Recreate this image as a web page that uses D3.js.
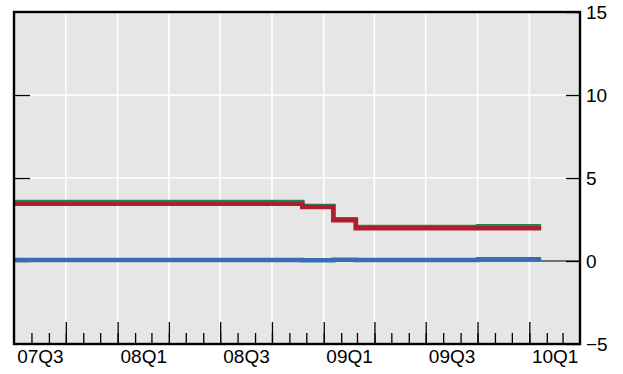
<!DOCTYPE html>
<html>
<head>
<meta charset="utf-8">
<script src="https://cdn.jsdelivr.net/npm/d3@7"></script>
<style>
  html, body { margin: 0; padding: 0; background: #ffffff; }
  svg { display: block; font-family: "Liberation Sans", Arial, sans-serif; }
</style>
</head>
<body>
<svg id="chart" width="623" height="374"></svg>
<script>
// Dates at which the rates change (last entry closes the series)
const changeDates = ["2007-07-01", "2008-11-24", "2009-01-18", "2009-02-27", "2009-10-02", "2010-01-22"];
// Rate levels (per cent) in force from each date
const redSeries   = [3.45, 3.25, 2.45, 1.98, 1.98, 1.98];
const greenSeries = [3.55, 3.32, 2.52, 2.05, 2.10, 2.10];
const blueSeries  = [0.06, 0.04, 0.08, 0.06, 0.10, 0.10];
// Axis ticks
const yTicks = [-5, 0, 5, 10, 15];
const yGrid = [5, 10];
const quarterLabels = ["07Q3", "07Q4", "08Q1", "08Q2", "08Q3", "08Q4", "09Q1", "09Q2", "09Q3", "09Q4", "10Q1"];
const shownLabels = ["07Q3", "08Q1", "08Q3", "09Q1", "09Q3", "10Q1"];

const parse = d3.timeParse("%Y-%m-%d");
const dates = changeDates.map(parse);

const svg = d3.select("#chart");
const pLeft = 14, pRight = 580, pTop = 12, pBottom = 344;

const x = d3.scaleTime()
  .domain([new Date(2007, 6, 1), new Date(2010, 3, 1)])
  .range([pLeft, pRight]);
const y = d3.scaleLinear().domain([-5, 15]).range([pBottom, pTop]);

// Quarter start dates derived from the quarter labels
const quarterStart = q => new Date(2000 + +q.slice(0, 2), (+q.slice(3) - 1) * 3, 1);
const quarters = quarterLabels.map(quarterStart);
const months = d3.timeMonth.range(x.domain()[0], x.domain()[1]).slice(1);

// Plot background
svg.append("rect")
  .attr("x", pLeft).attr("y", pTop)
  .attr("width", pRight - pLeft).attr("height", pBottom - pTop)
  .attr("fill", "#e6e6e6");

// White grid
const grid = svg.append("g").attr("stroke", "#ffffff").attr("stroke-width", 1.6);
grid.selectAll("line.v").data(quarters.slice(1)).join("line")
  .attr("class", "v")
  .attr("x1", d => x(d)).attr("x2", d => x(d))
  .attr("y1", pTop).attr("y2", pBottom);
grid.selectAll("line.h").data(yGrid).join("line")
  .attr("class", "h")
  .attr("x1", pLeft).attr("x2", pRight)
  .attr("y1", d => y(d)).attr("y2", d => y(d));

// Zero line
svg.append("line")
  .attr("x1", pLeft).attr("x2", pRight)
  .attr("y1", y(0)).attr("y2", y(0))
  .attr("stroke", "#000").attr("stroke-width", 1.2);

// Left ticks (no labels)
svg.append("g")
  .attr("transform", `translate(${pLeft},0)`)
  .call(d3.axisLeft(y).tickValues([0, 5, 10]).tickSizeInner(-16).tickSizeOuter(0).tickFormat(""))
  .call(g => g.select(".domain").remove())
  .call(g => g.selectAll(".tick line").attr("stroke", "#000").attr("stroke-width", 1.3));

// Series
const line = d3.line()
  .x(d => x(d.date))
  .y(d => y(d.value))
  .curve(d3.curveStepAfter);

const series = [
  { values: greenSeries, color: "#1a8a52" },
  { values: redSeries,   color: "#ad1f30" },
  { values: blueSeries,  color: "#3a6bb3" }
];
series.forEach(s => {
  svg.append("path")
    .datum(s.values.map((v, i) => ({ date: dates[i], value: v })))
    .attr("d", line)
    .attr("fill", "none")
    .attr("stroke", s.color)
    .attr("stroke-width", 4.5)
    .attr("stroke-linejoin", "miter")
    .attr("stroke-linecap", "butt");
});

// Bottom ticks: months (short) and quarters (long), pointing inward
svg.append("g")
  .attr("transform", `translate(0,${pBottom})`)
  .call(d3.axisBottom(x).tickValues(months).tickSizeInner(-11).tickSizeOuter(0).tickFormat(""))
  .call(g => g.select(".domain").remove())
  .call(g => g.selectAll(".tick line").attr("stroke", "#000").attr("stroke-width", 1.3));
svg.append("g")
  .attr("transform", `translate(0,${pBottom})`)
  .call(d3.axisBottom(x).tickValues(quarters.slice(1)).tickSizeInner(-22).tickSizeOuter(0).tickFormat(""))
  .call(g => g.select(".domain").remove())
  .call(g => g.selectAll(".tick line").attr("stroke", "#000").attr("stroke-width", 1.3));

// Quarter labels, centred within each quarter
const mid = q => new Date((quarterStart(q).getTime() + d3.timeMonth.offset(quarterStart(q), 3).getTime()) / 2);
svg.append("g")
  .attr("transform", `translate(0,${pBottom})`)
  .call(d3.axisBottom(x).tickValues(shownLabels.map(mid)).tickSize(0).tickPadding(6)
    .tickFormat((d, i) => shownLabels[i]))
  .call(g => g.select(".domain").remove())
  .call(g => g.selectAll(".tick text").attr("font-size", 19).attr("fill", "#000")
    .attr("font-family", "'Liberation Sans', Arial, sans-serif"));

// Right axis with labels
svg.append("g")
  .attr("transform", `translate(${pRight},0)`)
  .call(d3.axisRight(y).tickValues(yTicks).tickSizeInner(-14).tickSizeOuter(0).tickPadding(6)
    .tickFormat(d => d < 0 ? "\u2212" + Math.abs(d) : d))
  .call(g => g.select(".domain").remove())
  .call(g => g.selectAll(".tick line").attr("stroke", "#000").attr("stroke-width", 1.3))
  .call(g => g.selectAll(".tick text").attr("font-size", 19).attr("fill", "#000")
    .attr("font-family", "'Liberation Sans', Arial, sans-serif"));

// Frame
svg.append("rect")
  .attr("x", pLeft).attr("y", pTop)
  .attr("width", pRight - pLeft).attr("height", pBottom - pTop)
  .attr("fill", "none").attr("stroke", "#000").attr("stroke-width", 2.4);
</script>
</body>
</html>
